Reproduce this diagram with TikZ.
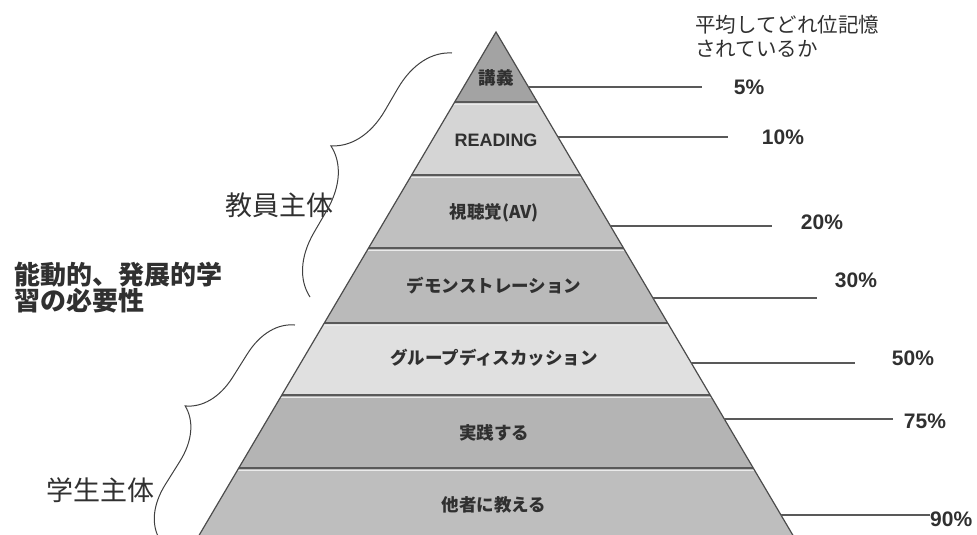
\documentclass[tikz,border=0pt]{standalone}
\usepackage{fontspec}
\newfontfamily\jp{Noto Sans CJK JP}
\newfontfamily\lat{Liberation Sans}
\usetikzlibrary{decorations.pathreplacing}
\definecolor{cA}{HTML}{A3A3A3}
\definecolor{cB}{HTML}{D5D5D5}
\definecolor{cC}{HTML}{C0C0C0}
\definecolor{cD}{HTML}{BABABA}
\definecolor{cE}{HTML}{E0E0E0}
\definecolor{cF}{HTML}{B4B4B4}
\definecolor{cG}{HTML}{BEBEBE}
\definecolor{ink}{HTML}{303030}
\begin{document}
\begin{tikzpicture}[x=1pt,y=-1pt,
  sep/.style={draw=black!65, line width=1.6pt},
  sephi/.style={draw=white!92!black, line width=1pt},
  leader/.style={draw=black!65, line width=1.3pt},
  edge/.style={draw=black!70, line width=1.2pt},
  pct/.style={font=\lat\bfseries\fontsize{21}{21}\selectfont, text=ink, inner sep=0pt},
  lab/.style={font=\jp\bfseries\fontsize{17.5}{17.5}\selectfont, text=ink, inner sep=0pt},
  side/.style={font=\jp\fontsize{27}{27}\selectfont, text=ink, inner sep=0pt},
  bracestyle/.style={draw=black!75, line width=1pt, decorate, decoration={brace, amplitude=#1}},
]
\useasboundingbox (0,0) rectangle (977,535);
\coordinate (apex) at (496,32);
\coordinate (bl) at (184.5,560);
\coordinate (br) at (807.5,560);
% bands
\begin{scope}
\clip (apex) -- (bl) -- (br) -- cycle;
\fill[cA] (0,0) rectangle (977,102);
\fill[cB] (0,102) rectangle (977,175);
\fill[cC] (0,175) rectangle (977,248);
\fill[cD] (0,248) rectangle (977,323);
\fill[cE] (0,323) rectangle (977,395);
\fill[cF] (0,395) rectangle (977,468);
\fill[cG] (0,468) rectangle (977,560);
\foreach \yy in {102,175,248,323,395,468}{
  \draw[sep] (0,\yy) -- (977,\yy);
  \draw[sephi] (0,\yy+2) -- (977,\yy+2);
}
\end{scope}
\draw[edge] (bl) -- (apex) -- (br);
% band labels
\node[lab] (l1) at (496,78) {講義};
\node[font=\lat\bfseries\fontsize{18}{18}\selectfont, text=ink, inner sep=0pt] (l2) at (496,140) {READING};
\node[lab] (l3) at (494,213) {視聴覚(AV)};
\node[lab] (l4) at (494,286) {デモンストレーション};
\node[lab] (l5) at (494,358) {グループディスカッション};
\node[lab] (l6) at (494,433) {実践する};
\node[lab] (l7) at (494,505) {他者に教える};
% leader lines
\coordinate (e1) at (528.5,87);  \coordinate (f1) at (702,87);
\coordinate (e2) at (558,137);   \coordinate (f2) at (728,137);
\coordinate (e3) at (610.5,226); \coordinate (f3) at (772,226);
\coordinate (e4) at (653,298);   \coordinate (f4) at (817,298);
\coordinate (e5) at (691.3,363); \coordinate (f5) at (855,363);
\coordinate (e6) at (724.3,419); \coordinate (f6) at (893,419);
\coordinate (e7) at (781,515);   \coordinate (f7) at (930,515);
\foreach \i in {1,...,7}{\draw[leader] (e\i) -- (f\i);}
% percentages
\node[pct] (p1) at (749,87) {5\%};
\node[pct] (p2) at (783,137) {10\%};
\node[pct] (p3) at (822,222) {20\%};
\node[pct] (p4) at (856,280) {30\%};
\node[pct] (p5) at (913,358) {50\%};
\node[pct] (p6) at (925,421) {75\%};
\node[pct, anchor=west] (p7) at (930,519) {90\%};
% header
\node[anchor=north west, align=left, inner sep=0pt, text=ink,
  font=\jp\fontsize{20.5}{24}\selectfont] (hdr) at (695,15) {平均してどれ位記憶\\されているか};
% left texts
\node[anchor=west, align=left, inner sep=0pt, text=ink,
  font=\jp\bfseries\fontsize{26}{26}\selectfont] (need) at (14,288) {能動的、発展的学\\習の必要性};
\node[side] (teach) at (279,205) {教員主体};
\node[side] (stud) at (100,490) {学生主体};
% braces
\coordinate (b1s) at (310,297); \coordinate (b1e) at (452,53);
\coordinate (b2s) at (160,540); \coordinate (b2e) at (295,325);
\draw[bracestyle=58pt] (b1s) -- (b1e);
\draw[bracestyle=50pt] (b2s) -- (b2e);
\end{tikzpicture}
\end{document}
